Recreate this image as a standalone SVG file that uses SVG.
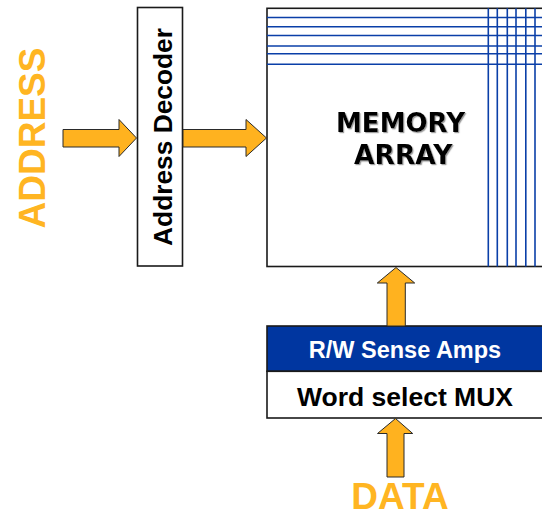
<svg xmlns="http://www.w3.org/2000/svg" width="542" height="516" viewBox="0 0 542 516">
<style>
.box{fill:#fff;stroke:#1a1a1a;stroke-width:1.6}
.arrow{fill:#FFB21F;stroke:#2a2a2a;stroke-width:1}
.grid{stroke:#0A3FA8;stroke-width:1.6}
.lbl{font-family:"Liberation Sans",Arial,sans-serif;font-weight:bold}
.orange{fill:#FFB522}
</style>
<defs>
<filter id="sh" x="-10%" y="-10%" width="130%" height="140%">
<feDropShadow dx="1.2" dy="1.2" stdDeviation="0.6" flood-color="#888" flood-opacity="0.8"/>
</filter>
</defs>
<rect width="542" height="516" fill="#fff"/>
<g id="address-label">
<text class="lbl orange" transform="translate(45,138) rotate(-90)" text-anchor="middle" font-size="37">ADDRESS</text>
</g>
<g id="address-decoder">
<rect class="box" x="137.5" y="7.5" width="45" height="258.5"/>
<text class="lbl" transform="translate(172,137) rotate(-90)" text-anchor="middle" font-size="26.3" fill="#000">Address Decoder</text>
</g>
<g id="memory-array">
<rect class="box" x="267" y="8.3" width="300" height="258.2"/>
<g class="grid">
<line x1="267" y1="17.5" x2="542" y2="17.5"/>
<line x1="267" y1="26.7" x2="542" y2="26.7"/>
<line x1="267" y1="35.5" x2="542" y2="35.5"/>
<line x1="267" y1="46" x2="542" y2="46"/>
<line x1="267" y1="53.8" x2="542" y2="53.8"/>
<line x1="267" y1="64.3" x2="542" y2="64.3"/>
<line x1="488.3" y1="8.3" x2="488.3" y2="266.5"/>
<line x1="497.3" y1="8.3" x2="497.3" y2="266.5"/>
<line x1="507.3" y1="8.3" x2="507.3" y2="266.5"/>
<line x1="516" y1="8.3" x2="516" y2="266.5"/>
<line x1="525.8" y1="8.3" x2="525.8" y2="266.5"/>
<line x1="535" y1="8.3" x2="535" y2="266.5"/>
</g>
<g filter="url(#sh)">
<text x="336" y="131.7" font-family="'DejaVu Sans',Verdana,sans-serif" font-weight="bold" font-size="26" fill="#000">MEMORY</text>
<text x="354" y="164" font-family="'DejaVu Sans',Verdana,sans-serif" font-weight="bold" font-size="26.5" fill="#000">ARRAY</text>
</g>
</g>
<g id="sense-amps">
<rect x="267" y="326" width="300" height="45.3" fill="#0036A0" stroke="#1a1a1a" stroke-width="1.6"/>
<text class="lbl" x="405" y="357.5" text-anchor="middle" font-size="23.5" fill="#fff">R/W Sense Amps</text>
</g>
<g id="word-select-mux">
<rect class="box" x="267" y="371.3" width="300" height="46.7"/>
<text class="lbl" x="405" y="406" text-anchor="middle" font-size="26.5" fill="#000">Word select MUX</text>
</g>
<g id="data-label">
<text class="lbl orange" x="400" y="509" text-anchor="middle" font-size="37">DATA</text>
</g>
<g id="connectors">
<polygon class="arrow" points="63,129.5 119,129.5 119,119.5 136.5,138 119,156.5 119,147 63,147"/>
<polygon class="arrow" points="183,129.5 246,129.5 246,119.5 266.5,138 246,156.5 246,147 183,147"/>
<polygon class="arrow" points="387,326 387,283 377.3,283 396,267.5 414.7,283 405.3,283 405.3,326"/>
<polygon class="arrow" points="387,477 387,433.5 377.5,433.5 395.5,418.5 412.7,433.5 404,433.5 404,477"/>
</g>
</svg>
